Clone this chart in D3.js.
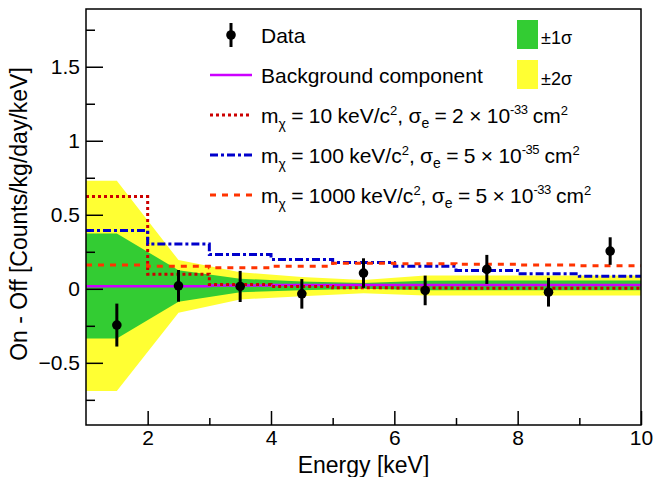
<!DOCTYPE html>
<html>
<head>
<meta charset="utf-8">
<script src="https://cdn.jsdelivr.net/npm/d3@7"></script>
<style>
  body { margin: 0; background: #fff; }
  text { font-family: "Liberation Sans", Arial, Helvetica, sans-serif; fill: #000; }
</style>
</head>
<body>
<div id="chart"></div>
<script>
////////////////////////////////////////////////////////////////////////
// Data

// bins are 1 keV wide, 1..10 keV
let binEdges = [1, 2, 3, 4, 5, 6, 7, 8, 9, 10];
let binCenters = [1.5, 2.5, 3.5, 4.5, 5.5, 6.5, 7.5, 8.5, 9.5];

// on - off data with errors
let dataY = [-0.245, 0.02, 0.016, -0.034, 0.106, -0.011, 0.131, -0.023, 0.255];
let dataErr = [0.145, 0.107, 0.105, 0.1, 0.1, 0.1, 0.098, 0.097, 0.093];

// background component
let background = [0.017, 0.018, 0.022, 0.025, 0.026, 0.026, 0.026, 0.026, 0.026];

// expected bands (at bin centers)
let band1Lo = [-0.335, -0.088, -0.023, -0.01, 0.0, -0.01, -0.01, -0.01, -0.01];
let band1Hi = [0.374, 0.125, 0.068, 0.05, 0.04, 0.055, 0.056, 0.056, 0.056];
let band2Lo = [-0.69, -0.162, -0.072, -0.05, -0.03, -0.045, -0.045, -0.045, -0.045];
let band2Hi = [0.73, 0.194, 0.112, 0.08, 0.06, 0.09, 0.09, 0.09, 0.09];

// signal histograms
let sig10 = [0.623, 0.099, 0.029, 0.016, 0.007, 0.005, 0.004, 0.004, 0.004];
let sig100 = [0.394, 0.302, 0.232, 0.198, 0.178, 0.153, 0.124, 0.101, 0.085];
let sig1000 = [0.16, 0.152, 0.142, 0.153, 0.172, 0.169, 0.165, 0.16, 0.156];

// axis ticks
let xMajor = [2, 4, 6, 8, 10];
let xMinor = [3, 5, 7, 9];
let yMajor = [-0.5, 0, 0.5, 1, 1.5];
let yMinor = [-0.75, -0.25, 0.25, 0.75, 1.25, 1.75];

////////////////////////////////////////////////////////////////////////
// Layout

let width = 653, height = 477;
let padLeft = 86, padRight = 641, padTop = 9, padBottom = 425;

let yellow = "#ffff33";
let green = "#33cc33";

let svg = d3.select("#chart").append("svg")
  .attr("width", width)
  .attr("height", height);

let xScale = d3.scaleLinear().domain([1, 10]).range([padLeft, padRight]);
let yScale = d3.scaleLinear().domain([-0.92, 1.89]).range([padBottom, padTop]);

svg.append("clipPath").attr("id", "plotclip")
  .append("rect")
  .attr("x", padLeft).attr("y", padTop)
  .attr("width", padRight - padLeft).attr("height", padBottom - padTop);

let plot = svg.append("g").attr("clip-path", "url(#plotclip)");

// bands: flat from the frame edge to the first / last bin center
function bandPoints(lo, hi) {
  let pts = binCenters.map((c, i) => [c, lo[i], hi[i]]);
  pts.unshift([binEdges[0], lo[0], hi[0]]);
  pts.push([binEdges[binEdges.length - 1], lo[lo.length - 1], hi[hi.length - 1]]);
  return pts;
}

let area = d3.area()
  .x(d => xScale(d[0]))
  .y0(d => yScale(d[1]))
  .y1(d => yScale(d[2]));

plot.append("path")
  .datum(bandPoints(band2Lo, band2Hi))
  .attr("fill", yellow)
  .attr("d", area);

plot.append("path")
  .datum(bandPoints(band1Lo, band1Hi))
  .attr("fill", green)
  .attr("d", area);

// histograms drawn as steps
function histPoints(vals) {
  let pts = vals.map((v, i) => [binEdges[i], v]);
  pts.push([binEdges[binEdges.length - 1], vals[vals.length - 1]]);
  return pts;
}

let step = d3.line()
  .x(d => xScale(d[0]))
  .y(d => yScale(d[1]))
  .curve(d3.curveStepAfter);

let histStyles = [
  { vals: background, color: "#cc00ff", width: 2.5, dash: null },
  { vals: sig10, color: "#cc0000", width: 3, dash: "3,3" },
  { vals: sig100, color: "#0000cc", width: 3, dash: "8,3,3,3" },
  { vals: sig1000, color: "#ff3300", width: 3, dash: "6,6" }
];

histStyles.forEach(function(h) {
  plot.append("path")
    .datum(histPoints(h.vals))
    .attr("fill", "none")
    .attr("stroke", h.color)
    .attr("stroke-width", h.width)
    .attr("stroke-dasharray", h.dash)
    .attr("d", step);
});

// data points
let pts = svg.append("g").selectAll("g")
  .data(binCenters.map((c, i) => [c, dataY[i], dataErr[i]]))
  .enter().append("g");

pts.append("line")
  .attr("x1", d => xScale(d[0])).attr("x2", d => xScale(d[0]))
  .attr("y1", d => yScale(d[1] - d[2])).attr("y2", d => yScale(d[1] + d[2]))
  .attr("stroke", "#000").attr("stroke-width", 3);

pts.append("circle")
  .attr("cx", d => xScale(d[0])).attr("cy", d => yScale(d[1]))
  .attr("r", 4.8).attr("fill", "#000");

////////////////////////////////////////////////////////////////////////
// Axes (ticks point inside the frame)

function styleAxis(g) {
  g.select(".domain").remove();
  g.selectAll("line").attr("stroke", "#000").attr("stroke-width", 1.5);
  g.selectAll("text").style("font-size", "21px");
}

svg.append("g")
  .attr("transform", "translate(0," + padBottom + ")")
  .call(d3.axisBottom(xScale).tickValues(xMajor).tickSizeInner(-14).tickSizeOuter(0).tickPadding(5).tickFormat(d3.format("d")))
  .call(styleAxis);

svg.append("g")
  .attr("transform", "translate(0," + padBottom + ")")
  .call(d3.axisBottom(xScale).tickValues(xMinor).tickSizeInner(-7).tickSizeOuter(0).tickFormat(""))
  .call(styleAxis);

svg.append("g")
  .attr("transform", "translate(" + padLeft + ",0)")
  .call(d3.axisLeft(yScale).tickValues(yMajor).tickSizeInner(-17).tickSizeOuter(0).tickPadding(6).tickFormat(d3.format("")))
  .call(styleAxis);

svg.append("g")
  .attr("transform", "translate(" + padLeft + ",0)")
  .call(d3.axisLeft(yScale).tickValues(yMinor).tickSizeInner(-9).tickSizeOuter(0).tickFormat(""))
  .call(styleAxis);

// frame
svg.append("rect")
  .attr("x", padLeft).attr("y", padTop)
  .attr("width", padRight - padLeft).attr("height", padBottom - padTop)
  .attr("fill", "none").attr("stroke", "#000").attr("stroke-width", 1.5);

// axis titles
svg.append("text")
  .attr("x", (padLeft + padRight) / 2).attr("y", 473)
  .attr("text-anchor", "middle")
  .style("font-size", "23px")
  .text("Energy [keV]");

svg.append("text")
  .attr("transform", "translate(27," + ((padTop + padBottom) / 2 - 3) + ") rotate(-90)")
  .attr("text-anchor", "middle")
  .style("font-size", "23px")
  .text("On - Off [Counts/kg/day/keV]");

////////////////////////////////////////////////////////////////////////
// Legend

let leg = svg.append("g");
let symX0 = 210, symX1 = 252, textX = 261;
let rowY = [35, 75, 115, 155, 195];

// data entry
leg.append("line")
  .attr("x1", 231).attr("x2", 231).attr("y1", rowY[0] - 12).attr("y2", rowY[0] + 12)
  .attr("stroke", "#000").attr("stroke-width", 3);
leg.append("circle").attr("cx", 231).attr("cy", rowY[0]).attr("r", 4.8).attr("fill", "#000");
leg.append("text").attr("x", textX).attr("y", rowY[0] + 7.5).style("font-size", "21px").text("Data");

// line entries
histStyles.forEach(function(h, i) {
  leg.append("line")
    .attr("x1", symX0).attr("x2", symX1)
    .attr("y1", rowY[i + 1]).attr("y2", rowY[i + 1])
    .attr("stroke", h.color)
    .attr("stroke-width", h.width)
    .attr("stroke-dasharray", h.dash);
});

leg.append("text").attr("x", textX).attr("y", rowY[1] + 7.5).style("font-size", "21px").text("Background component");

let modelLabels = [
  ["10", "2", "-33"],
  ["100", "5", "-35"],
  ["1000", "5", "-33"]
];

modelLabels.forEach(function(m, i) {
  let t = leg.append("text")
    .attr("x", textX).attr("y", rowY[i + 2] + 7.5)
    .style("font-size", "21px")
    .style("word-spacing", "-0.5px");
  t.append("tspan").text("m");
  t.append("tspan").attr("dy", 6).style("font-size", "14px").text("\u03c7");
  t.append("tspan").attr("dy", -6).text(" = " + m[0] + " keV/c");
  t.append("tspan").attr("dy", -8).style("font-size", "13px").text("2");
  t.append("tspan").attr("dy", 8).text(", \u03c3");
  t.append("tspan").attr("dy", 5).style("font-size", "14px").text("e");
  t.append("tspan").attr("dy", -5).text(" = " + m[1] + " \u00d7 10");
  t.append("tspan").attr("dy", -9).style("font-size", "13px").style("letter-spacing", "-0.5px").text(m[2]);
  t.append("tspan").attr("dy", 9).text(" cm");
  t.append("tspan").attr("dy", -8).style("font-size", "13px").text("2");
});

// band entries
leg.append("rect").attr("x", 517).attr("y", 20).attr("width", 21).attr("height", 29).attr("fill", green);
leg.append("rect").attr("x", 517).attr("y", 60).attr("width", 21).attr("height", 29).attr("fill", yellow);
leg.append("text").attr("x", 541).attr("y", 44).style("font-size", "18px").text("\u00b11\u03c3");
leg.append("text").attr("x", 541).attr("y", 85).style("font-size", "18px").text("\u00b12\u03c3");
</script>
</body>
</html>
